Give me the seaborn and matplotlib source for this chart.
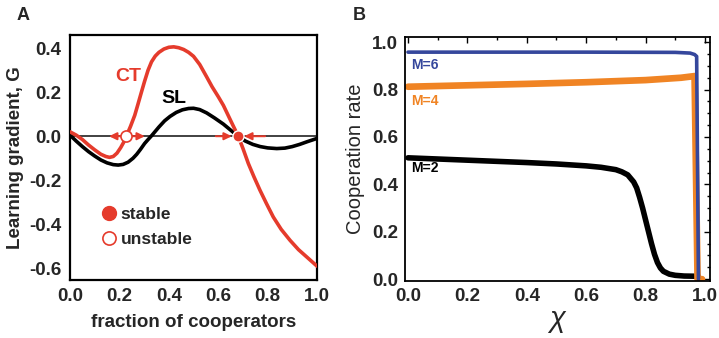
import numpy as np
import pandas as pd
import matplotlib
matplotlib.use("Agg")
import matplotlib.pyplot as plt
from matplotlib.lines import Line2D
from matplotlib.ticker import MultipleLocator
import seaborn as sns

# ---- panel A data: learning gradient vs fraction of cooperators ----
ct_x = [0.0, 0.025, 0.05, 0.075, 0.1, 0.125, 0.145, 0.16, 0.175, 0.19, 0.205, 0.217,
        0.228, 0.245, 0.262, 0.275, 0.289, 0.302, 0.316, 0.33, 0.345, 0.36, 0.38, 0.40,
        0.42, 0.44, 0.46, 0.48, 0.50, 0.525, 0.553, 0.575, 0.60, 0.621, 0.65, 0.681,
        0.70, 0.722, 0.745, 0.769, 0.795, 0.823, 0.855, 0.891, 0.925, 0.96, 1.0]
ct_y = [0.02, 0.005, -0.015, -0.04, -0.062, -0.082, -0.092, -0.096, -0.092, -0.077, -0.052, -0.028,
        0.0, 0.045, 0.095, 0.145, 0.20, 0.25, 0.30, 0.338, 0.364, 0.381, 0.396, 0.404,
        0.406, 0.402, 0.394, 0.381, 0.363, 0.326, 0.27, 0.225, 0.18, 0.14, 0.072, 0.0,
        -0.055, -0.124, -0.185, -0.245, -0.305, -0.367, -0.423, -0.473, -0.515, -0.55, -0.59]

sl_x = [0.0, 0.025, 0.05, 0.075, 0.1, 0.125, 0.15, 0.175, 0.195, 0.215, 0.235, 0.255,
        0.27, 0.285, 0.302, 0.316, 0.33, 0.345, 0.36, 0.383, 0.405, 0.43, 0.455, 0.48,
        0.50, 0.525, 0.553, 0.585, 0.621, 0.65, 0.68, 0.71, 0.74, 0.77, 0.80, 0.837,
        0.87, 0.90, 0.93, 0.96, 1.0]
sl_y = [0.005, -0.022, -0.047, -0.07, -0.09, -0.108, -0.121, -0.129, -0.131, -0.128, -0.118, -0.10,
        -0.082, -0.06, -0.033, -0.015, 0.002, 0.022, 0.042, 0.07, 0.09, 0.108, 0.12, 0.126,
        0.127, 0.121, 0.106, 0.083, 0.055, 0.028, 0.0, -0.022, -0.037, -0.047, -0.053, -0.056,
        -0.054, -0.047, -0.037, -0.025, -0.01]

fixed_x = [0.228, 0.68]
fixed_stable = [False, True]
legend_labels = ["stable", "unstable"]

# ---- panel B data: cooperation rate vs chi ----
m2_x = [0.0, 0.1, 0.2, 0.3, 0.4, 0.5, 0.6, 0.65, 0.7, 0.72, 0.74, 0.76, 0.77, 0.78,
        0.79, 0.80, 0.81, 0.82, 0.83, 0.84, 0.85, 0.86, 0.88, 0.90, 0.93, 0.977]
m2_y = [0.512, 0.507, 0.502, 0.497, 0.492, 0.486, 0.478, 0.472, 0.462, 0.453, 0.44, 0.41,
        0.385, 0.345, 0.30, 0.25, 0.20, 0.15, 0.105, 0.07, 0.047, 0.033, 0.021, 0.016,
        0.013, 0.012]
m4_x = [0.0, 0.2, 0.4, 0.6, 0.8, 0.92, 0.965, 0.975, 0.99]
m4_y = [0.812, 0.818, 0.824, 0.831, 0.84, 0.85, 0.857, 0.0, 0.0]
m6_x = [0.0, 0.3, 0.6, 0.9, 0.95, 0.965, 0.972, 0.978]
m6_y = [0.958, 0.958, 0.958, 0.957, 0.954, 0.948, 0.94, 0.0]
m_labels = ["M=2", "M=4", "M=6"]
m_label_y = [0.47, 0.75, 0.905]

RED = "#e53b2c"
BLUE = "#35479c"
ORANGE = "#f08424"

sns.set_style("white")
plt.rcParams["font.family"] = ["Liberation Sans", "DejaVu Sans"]

fig = plt.figure(figsize=(7.19, 3.38), dpi=100)
axA = fig.add_axes([0.0974, 0.1716, 0.3435, 0.725])
axB = fig.add_axes([0.5633, 0.1686, 0.4242, 0.722])

# ---------------- panel A ----------------
axA.axhline(0, color="#333333", lw=1.3, zorder=1)
sns.lineplot(x=sl_x, y=sl_y, ax=axA, color="black", lw=2.6, estimator=None, zorder=2)
sns.lineplot(x=ct_x, y=ct_y, ax=axA, color=RED, lw=2.6, estimator=None, zorder=3)

arrow_kw = dict(arrowstyle="-|>,head_length=0.45,head_width=0.22", color=RED, lw=1.4,
                shrinkA=0, shrinkB=0)
for fx, st in zip(fixed_x, fixed_stable):
    if st:
        axA.annotate("", xy=(fx - 0.025, 0), xytext=(fx - 0.09, 0), arrowprops=arrow_kw, zorder=4)
        axA.annotate("", xy=(fx + 0.025, 0), xytext=(fx + 0.11, 0), arrowprops=arrow_kw, zorder=4)
        axA.plot(fx, 0, "o", ms=8, mfc=RED, mec="white", mew=1.0, zorder=5)
    else:
        axA.annotate("", xy=(fx - 0.07, 0), xytext=(fx - 0.02, 0), arrowprops=arrow_kw, zorder=4)
        axA.annotate("", xy=(fx + 0.075, 0), xytext=(fx + 0.02, 0), arrowprops=arrow_kw, zorder=4)
        axA.plot(fx, 0, "o", ms=8, mfc="white", mec=RED, mew=1.2, zorder=5)

axA.text(0.235, 0.27, "CT", color=RED, fontsize=14, fontweight="bold", ha="center", va="center")
axA.text(0.42, 0.17, "SL", color="black", fontsize=14, fontweight="bold", ha="center", va="center")

handles = [Line2D([], [], ls="", marker="o", ms=10, mfc=RED, mec=RED),
           Line2D([], [], ls="", marker="o", ms=9.5, mfc="white", mec=RED, mew=1.2)]
axA.legend(handles, legend_labels, loc="upper left", bbox_to_anchor=(0.095, 0.335),
           frameon=False, handlelength=0.8, handletextpad=0.25, labelspacing=0.6,
           borderpad=0, prop=dict(size=12.5, weight="bold"))

axA.set_xlim(0, 1)
axA.set_ylim(-0.653, 0.46)
axA.set_xticks([0, 0.2, 0.4, 0.6, 0.8, 1.0])
axA.set_yticks([-0.6, -0.4, -0.2, 0.0, 0.2, 0.4])
axA.set_xticklabels([f"{v:.1f}" for v in [0, 0.2, 0.4, 0.6, 0.8, 1.0]])
axA.set_yticklabels([f"{v:.1f}" for v in [-0.6, -0.4, -0.2, 0.0, 0.2, 0.4]])
axA.tick_params(length=0, labelsize=13.5, pad=6)
for lab in axA.get_xticklabels() + axA.get_yticklabels():
    lab.set_fontweight("bold")
for s in axA.spines.values():
    s.set_color("black")
    s.set_linewidth(1.6)
axA.set_xlabel("fraction of cooperators", fontsize=13.5, fontweight="bold", labelpad=6)
axA.set_ylabel("Learning gradient, G", fontsize=13.5, fontweight="bold", labelpad=4)
fig.text(0.032, 0.955, "A", fontsize=13, fontweight="bold", ha="center", va="center")

# ---------------- panel B ----------------
sns.lineplot(x=m2_x, y=m2_y, ax=axB, color="black", lw=4.0, estimator=None, sort=False)
sns.lineplot(x=m4_x, y=m4_y, ax=axB, color=ORANGE, lw=4.8, estimator=None, sort=False)
sns.lineplot(x=m6_x, y=m6_y, ax=axB, color=BLUE, lw=2.6, estimator=None, sort=False)
for lab, ly, col in zip(m_labels, m_label_y, ["black", ORANGE, BLUE]):
    axB.text(0.012, ly, lab, color=col, fontsize=10, fontweight="bold", ha="left", va="center")

axB.set_xlim(-0.01, 1.017)
axB.set_ylim(-0.008, 1.022)
ticks = [0, 0.2, 0.4, 0.6, 0.8, 1.0]
axB.set_xticks(ticks)
axB.set_yticks(ticks)
axB.set_xticklabels([f"{v:.1f}" for v in ticks])
axB.set_yticklabels([f"{v:.1f}" for v in ticks])
axB.xaxis.set_minor_locator(MultipleLocator(0.1))
axB.yaxis.set_minor_locator(MultipleLocator(0.05))
axB.tick_params(which="both", direction="in", top=True, right=True, color="black", width=1.0)
axB.tick_params(which="major", length=4, labelsize=13.5, pad=5)
axB.tick_params(which="minor", length=2)
for lab in axB.get_xticklabels() + axB.get_yticklabels():
    lab.set_fontweight("bold")
for s in axB.spines.values():
    s.set_color("black")
    s.set_linewidth(1.3)
axB.set_xlabel("χ", fontsize=21, style="italic", labelpad=0)
axB.set_ylabel("Cooperation rate", fontsize=14.5, labelpad=5)
fig.text(0.5, 0.955, "B", fontsize=13, fontweight="bold", ha="center", va="center")

fig.savefig("out.png", dpi=100)
